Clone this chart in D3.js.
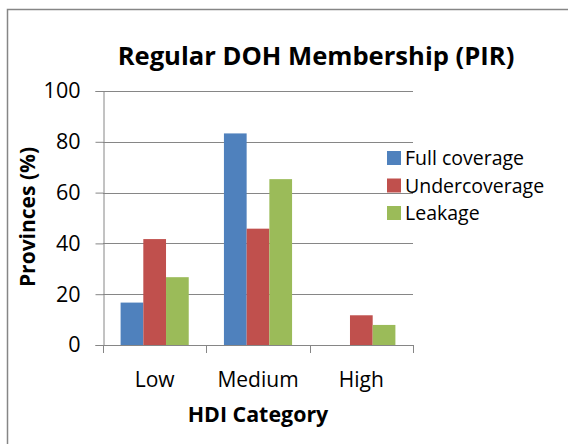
<!DOCTYPE html>
<html lang="en">
<head>
<meta charset="UTF-8">
<title>Regular DOH Membership (PIR)</title>
<script src="https://d3js.org/d3.v7.min.js"></script>
<style>
  body { margin:0; background:#fff; }
  text { font-family: "Open Sans", "Liberation Sans", sans-serif; fill:#000; }
</style>
</head>
<body>
<svg id="chart" width="568" height="444"></svg>
<script>
// data
var categories = ["Low", "Medium", "High"];
var seriesNames = ["Full coverage", "Undercoverage", "Leakage"];
var fullCoverage = [16.7, 83.3, 0];
var underCoverage = [41.7, 45.8, 11.7];
var leakage = [26.7, 65.3, 7.9];
var yTicks = [0, 20, 40, 60, 80, 100];
var colors = ["#4f81bd", "#c0504d", "#9bbb59"];

var seriesValues = [fullCoverage, underCoverage, leakage];

var svg = d3.select("#chart");
var plotLeft = 103, plotRight = 413, plotTop = 91, plotBottom = 345;

// outer frame of the chart area
svg.append("rect").attr("x", 7.5).attr("y", 9.5).attr("width", 580).attr("height", 460)
  .attr("fill", "none").attr("stroke", "#868686").attr("stroke-width", 1.5);

var x = d3.scaleBand().domain(categories).range([plotLeft, plotRight]).paddingInner(0).paddingOuter(0);
var xs = d3.scaleBand().domain(seriesNames).range([0, x.bandwidth()]).paddingInner(0).paddingOuter(0.775);
var y = d3.scaleLinear().domain([0, 100]).range([plotBottom, plotTop]);

// gridlines
svg.append("g").selectAll("line").data(yTicks.filter(function(d){ return d > 0; }))
  .enter().append("line")
  .attr("x1", plotLeft).attr("x2", plotRight)
  .attr("y1", function(d){ return Math.round(y(d)) + 0.5; })
  .attr("y2", function(d){ return Math.round(y(d)) + 0.5; })
  .attr("stroke", "#868686").attr("stroke-width", 1);

// bars
var rows = [];
categories.forEach(function(c, i){
  seriesNames.forEach(function(s, j){
    rows.push({cat: c, series: s, value: seriesValues[j][i], color: colors[j]});
  });
});
svg.append("g").selectAll("rect").data(rows).enter().append("rect")
  .attr("x", function(d){ return x(d.cat) + xs(d.series); })
  .attr("y", function(d){ return y(d.value); })
  .attr("width", xs.bandwidth())
  .attr("height", function(d){ return plotBottom - y(d.value); })
  .attr("fill", function(d){ return d.color; });

// y axis
var yAxis = svg.append("g").attr("transform", "translate(" + (plotLeft + 0.5) + ",0)")
  .call(d3.axisLeft(y).tickValues(yTicks).tickSize(8).tickPadding(15));
yAxis.selectAll("line, path").attr("stroke", "#868686");
yAxis.selectAll("text").style("font-size", "21.5px").attr("fill", "#000");

// x axis
var xAxis = svg.append("g").attr("transform", "translate(0," + (plotBottom + 0.5) + ")")
  .call(d3.axisBottom(x).tickSize(0).tickPadding(27));
xAxis.select("path").attr("stroke", "#868686").attr("d", "M" + plotLeft + ",0H" + plotRight);
xAxis.selectAll("text").style("font-size", "21px").attr("fill", "#000");
// category boundary ticks
svg.append("g").selectAll("line").data(d3.range(categories.length + 1)).enter().append("line")
  .attr("x1", function(i){ return Math.round(plotLeft + i * x.step()) + 0.5; })
  .attr("x2", function(i){ return Math.round(plotLeft + i * x.step()) + 0.5; })
  .attr("y1", plotBottom).attr("y2", plotBottom + 8)
  .attr("stroke", "#868686");

// title and axis titles
svg.append("text").attr("x", 316).attr("y", 65).attr("text-anchor", "middle")
  .style("font-size", "25.6px").style("font-weight", "bold").text("Regular DOH Membership (PIR)");
svg.append("text").attr("x", 258).attr("y", 422).attr("text-anchor", "middle")
  .style("font-size", "21.4px").style("font-weight", "bold").text("HDI Category");
svg.append("text").attr("transform", "translate(35,217) rotate(-90)").attr("text-anchor", "middle")
  .style("font-size", "21px").style("font-weight", "bold").text("Provinces (%)");

// legend
var legend = svg.append("g").selectAll("g").data(seriesNames).enter().append("g")
  .attr("transform", function(d, i){ return "translate(387," + (151 + i * 27.5) + ")"; });
legend.append("rect").attr("width", 14).attr("height", 14)
  .attr("fill", function(d, i){ return colors[i]; });
legend.append("text").attr("x", 18).attr("y", 14).style("font-size", "19.5px").text(function(d){ return d; });
</script>
</body>
</html>
